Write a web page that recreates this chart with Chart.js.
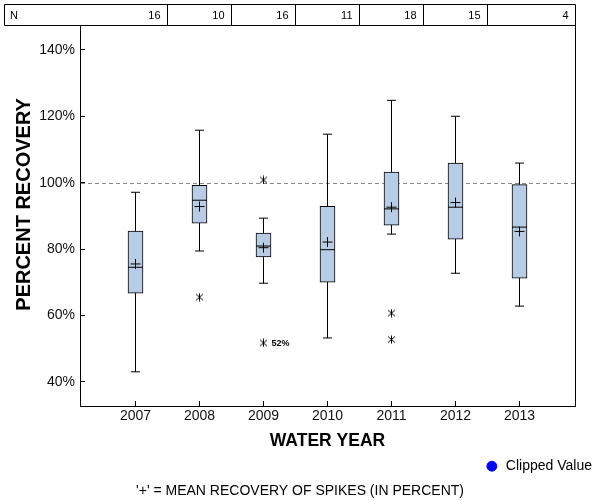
<!DOCTYPE html>
<html>
<head>
<meta charset="utf-8">
<script src="https://cdn.jsdelivr.net/npm/chart.js@4.4.1/dist/chart.umd.min.js"></script>
<style>
  html, body { margin: 0; padding: 0; background: #fff; }
  canvas { display: block; }
</style>
</head>
<body>
<canvas id="c" width="600" height="500"></canvas>
<script>
// ---- data ----
const years        = [2007, 2008, 2009, 2010, 2011, 2012, 2013];
const nCounts      = [16, 10, 16, 11, 18, 15, 4];
const whiskerLow   = [43.0, 79.4, 69.7, 53.2, 84.5, 72.7, 62.8];
const q1           = [66.7, 87.8, 77.6, 70.0, 87.2, 83.0, 71.2];
const medians      = [74.5, 94.7, 80.9, 79.8, 92.1, 92.6, 86.6];
const q3           = [85.4, 99.2, 84.8, 92.9, 103.2, 105.9, 99.4];
const whiskerHigh  = [97.1, 115.8, 89.3, 114.6, 124.8, 120.0, 105.9];
const means        = [75.5, 92.8, 80.4, 82.1, 92.6, 94.0, 85.3];
const outlierYears  = [2008, 2009, 2009, 2011, 2011];
const outlierValues = [65.5, 100.8, 51.7, 60.7, 52.7];
const outlierNotes  = ['', '', '52%', '', ''];
const yTicks = [40, 60, 80, 100, 120, 140];
const referenceValue = 100;

// ---- build datasets ----
const boxData = years.map((yr, i) => ({x: yr, y: [q1[i], q3[i]]}));
const medianData = years.map((yr, i) => ({x: yr, y: medians[i]}));
const meanData = years.map((yr, i) => ({x: yr, y: means[i]}));
const whiskerData = [];
years.forEach((yr, i) => {
  whiskerData.push({x: yr, y: q3[i]}, {x: yr, y: whiskerHigh[i]}, {x: yr, y: null});
  whiskerData.push({x: yr, y: q1[i]}, {x: yr, y: whiskerLow[i]}, {x: yr, y: null});
});
const capData = [];
years.forEach((yr, i) => { capData.push({x: yr, y: whiskerHigh[i]}, {x: yr, y: whiskerLow[i]}); });
const outlierData = outlierYears.map((yr, i) => ({x: yr, y: outlierValues[i]}));

// asterisk marker
const star = document.createElement('canvas');
star.width = 9; star.height = 9;
(function(){
  const g = star.getContext('2d');
  g.strokeStyle = '#000'; g.lineWidth = 1;
  g.beginPath();
  g.moveTo(4.5, 0.5); g.lineTo(4.5, 8.5);
  g.moveTo(1, 1.5); g.lineTo(8, 7.5);
  g.moveTo(8, 1.5); g.lineTo(1, 7.5);
  g.stroke();
})();

const FONT = "'Liberation Sans', Arial, sans-serif";
Chart.defaults.font.family = FONT;
Chart.defaults.color = '#000';

const annot = {
  id: 'annot',
  beforeDatasetsDraw(chart) {
    const {ctx, chartArea, scales} = chart;
    const y = Math.round(scales.y.getPixelForValue(referenceValue)) + 0.5;
    ctx.save();
    ctx.strokeStyle = '#8a8a8a';
    ctx.lineWidth = 1;
    ctx.setLineDash([4, 3]);
    ctx.beginPath();
    ctx.moveTo(chartArea.left + 1, y);
    ctx.lineTo(chartArea.right, y);
    ctx.stroke();
    ctx.restore();
  },
  afterDraw(chart) {
    const {ctx, chartArea, scales} = chart;
    const xs = scales.x;
    const top = 4.5;
    const bot = Math.round(chartArea.top) + 0.5;
    const left = 4.5;
    const right = Math.round(chartArea.right) + 0.5;
    const bounds = [left];
    for (let i = 0; i < years.length - 1; i++) {
      bounds.push(Math.floor(xs.getPixelForValue((years[i] + years[i + 1]) / 2)) + 0.5);
    }
    bounds.push(right);
    ctx.save();
    ctx.strokeStyle = '#000';
    ctx.lineWidth = 1;
    ctx.beginPath();
    ctx.rect(left, top, right - left, bot - top);
    for (let i = 1; i < bounds.length - 1; i++) {
      ctx.moveTo(bounds[i], top);
      ctx.lineTo(bounds[i], bot);
    }
    ctx.stroke();
    ctx.fillStyle = '#000';
    ctx.font = "11px " + FONT;
    ctx.textBaseline = 'middle';
    const cy = (top + bot) / 2 + 1;
    ctx.textAlign = 'left';
    ctx.fillText('N', 10, cy);
    ctx.textAlign = 'right';
    nCounts.forEach((n, i) => ctx.fillText(String(n), bounds[i + 1] - 7, cy));
    // outlier notes
    ctx.font = "bold 9px " + FONT;
    ctx.textAlign = 'left';
    outlierNotes.forEach((t, i) => {
      if (!t) return;
      const px = xs.getPixelForValue(outlierYears[i]);
      const py = scales.y.getPixelForValue(outlierValues[i]);
      ctx.fillText(t, px + 8, py + 1);
    });
    ctx.restore();
  }
};

new Chart(document.getElementById('c'), {
  type: 'scatter',
  data: {
    datasets: [
      { label: 'mean', type: 'scatter', data: meanData, pointStyle: 'cross', pointRadius: 5,
        borderColor: '#000', backgroundColor: '#000', pointBorderWidth: 1 },
      { label: 'median', type: 'scatter', data: medianData, pointStyle: 'line', pointRadius: 7.5,
        borderColor: '#000', pointBorderWidth: 1 },
      { label: 'caps', type: 'scatter', data: capData, pointStyle: 'line', pointRadius: 4.5,
        borderColor: '#000', pointBorderWidth: 1 },
      { label: 'outliers', type: 'scatter', data: outlierData, pointStyle: star, pointRadius: 4 },
      { label: 'Clipped Value', type: 'scatter', data: [], pointStyle: 'circle',
        backgroundColor: '#0000ff', borderColor: '#0000ff' },
      { label: 'whiskers', type: 'line', data: whiskerData, borderColor: '#000', borderWidth: 1,
        pointRadius: 0, spanGaps: false, fill: false, showLine: true },
      { label: 'box', type: 'bar', data: boxData, backgroundColor: '#b8cde5', borderColor: '#000',
        borderWidth: 1, borderSkipped: false, barThickness: 15 }
    ]
  },
  options: {
    responsive: false,
    animation: false,
    events: [],
    layout: { padding: { top: 25, left: 0, right: 0, bottom: 0 } },
    scales: {
      x: {
        type: 'linear',
        position: 'bottom',
        min: years[0] - 0.8671875,
        max: years[years.length - 1] + 0.8671875,
        offset: false,
        afterBuildTicks(s) { s.ticks = years.map(v => ({value: v})); },
        afterFit(s) { s.height = 45.2; },
        grid: { drawOnChartArea: false, offset: false, tickLength: -5, color: '#000', tickColor: '#000' },
        border: { display: true, color: '#000', width: 1 },
        ticks: { padding: 7, font: { size: 14 }, color: '#111', callback: v => String(v), maxRotation: 0, autoSkip: false },
        title: { display: true, text: 'WATER YEAR', font: { size: 17.5, weight: 'bold' }, color: '#000', padding: { top: 0, bottom: 0 } }
      },
      y: {
        type: 'linear',
        position: 'left',
        min: 32.7,
        max: 147.5,
        afterBuildTicks(s) { s.ticks = yTicks.map(v => ({value: v})); },
        afterFit(s) { s.width = 80; },
        grid: { drawOnChartArea: false, tickLength: -5, color: '#000', tickColor: '#000' },
        border: { display: true, color: '#000', width: 1 },
        ticks: { padding: 10, font: { size: 14 }, color: '#111', callback: v => v + '%' },
        title: { display: true, text: '    PERCENT RECOVERY', font: { size: 20, weight: 'bold' }, color: '#000', padding: { top: 12, bottom: 0 } }
      },
      yR: {
        type: 'linear',
        position: 'right',
        display: true,
        afterFit(s) { s.width = 25; },
        grid: { display: false },
        ticks: { display: false },
        border: { display: true, color: '#000', width: 1 }
      }
    },
    plugins: {
      tooltip: { enabled: false },
      legend: {
        display: true,
        position: 'bottom',
        align: 'end',
        labels: {
          usePointStyle: true, boxWidth: 14, boxHeight: 7, padding: 8,
          font: { size: 14 }, color: '#000',
          filter: item => item.text === 'Clipped Value'
        }
      },
      title: {
        display: true,
        position: 'bottom',
        text: "'+' = MEAN RECOVERY OF SPIKES (IN PERCENT)",
        font: { size: 14, weight: 'normal' },
        color: '#000',
        padding: { top: 0, bottom: 0 }
      }
    }
  },
  plugins: [annot]
});
</script>
</body>
</html>
